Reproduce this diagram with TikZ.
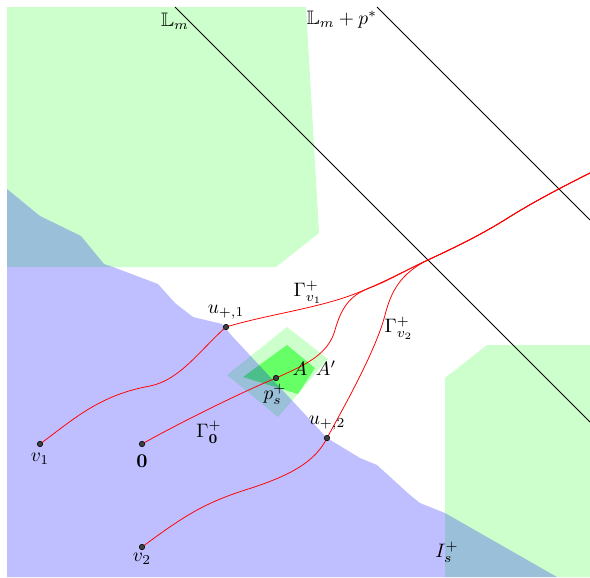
\documentclass[tikz,border=0pt]{standalone}
\usepackage{amssymb}
\begin{document}
\begin{tikzpicture}[x=0.513pt,y=-0.513pt,
  greg/.style={fill=green,fill opacity=0.2},
  breg/.style={fill=blue,fill opacity=0.25},
  innerreg/.style={fill=green,fill opacity=0.5},
  curve/.style={red,line width=0.4pt},
  refline/.style={black,line width=0.4pt},
  dot/.style={circle,fill=black!75,draw=black,line width=0.3pt,inner sep=0pt,minimum size=2.8pt},
  lab/.style={inner sep=1pt}]
\useasboundingbox (0,0) rectangle (590,577);
% regions
\fill[greg] (7,7) -- (306,7) -- (319,233) -- (276,267) -- (7,267) -- cycle;
\fill[greg] (445,378) -- (487,345) -- (590,345) -- (590,577) -- (445,577) -- cycle;
\fill[greg] (287,327) -- (328,359) -- (278,417) -- (227,375) -- cycle;
\fill[innerreg] (287,345) -- (315,368) -- (298,394) -- (243,377) -- cycle;
\fill[breg] (7,189) -- (40,216) -- (81,236) -- (104,264) -- (113,267) -- (158,284)
  -- (175,303) -- (193,317) -- (222,324) -- (232,336) -- (327,438) -- (360,458)
  -- (377,465) -- (410,495) -- (420,503) -- (445,513) -- (557,577) -- (7,577) -- cycle;
% reference lines
\coordinate (L1a) at (175,7);
\coordinate (L1b) at (590,422);
\coordinate (L2a) at (377,7);
\coordinate (L2b) at (590,220);
\draw[refline] (L1a) -- (L1b);
\draw[refline] (L2a) -- (L2b);
% points
\coordinate (v1) at (40,444);
\coordinate (o) at (142,444);
\coordinate (v2) at (142,547);
\coordinate (u1) at (226,327);
\coordinate (u2) at (327,438);
\coordinate (ps) at (276,378);
\coordinate (J) at (430,259);
\coordinate (E) at (590,173);
% curves
\draw[curve] (v1) .. controls (75,418) and (100,395) .. (150,386)
  .. controls (180,380) and (200,350) .. (u1)
  .. controls (265,315) and (320,308) .. (357,293)
  .. controls (385,282) and (410,268) .. (J)
  .. controls (460,245) and (480,235) .. (503,221)
  .. controls (525,207) and (550,193) .. (E);
\draw[curve] (o) .. controls (170,428) and (235,395) .. (ps)
  .. controls (305,365) and (328,355) .. (335,330)
  .. controls (342,305) and (352,294) .. (372,287)
  .. controls (390,280) and (410,268) .. (J)
  .. controls (460,245) and (480,235) .. (503,221)
  .. controls (525,207) and (550,193) .. (E);
\draw[curve] (v2) .. controls (185,515) and (205,503) .. (245,490)
  .. controls (290,476) and (315,462) .. (u2)
  .. controls (345,405) and (376,350) .. (385,315)
  .. controls (391,292) and (400,273) .. (J)
  .. controls (460,245) and (480,235) .. (503,221)
  .. controls (525,207) and (550,193) .. (E);
% dots
\node[dot] (dv1) at (v1) {};
\node[dot] (do) at (o) {};
\node[dot] (dv2) at (v2) {};
\node[dot] (du1) at (u1) {};
\node[dot] (du2) at (u2) {};
\node[dot] (dps) at (ps) {};
% labels
\node[lab] (tL1) at (175,21) {$\mathbb{L}_m$};
\node[lab] (tL2) at (342,20) {$\mathbb{L}_m+p^*$};
\node[lab] (tv1) at (40,459) {$v_1$};
\node[lab] (to) at (142,461) {$\mathbf{0}$};
\node[lab] (tv2) at (142,559) {$v_2$};
\node[lab] (tu1) at (226,312) {$u_{+,1}$};
\node[lab] (tu2) at (327,423) {$u_{+,2}$};
\node[lab] (tps) at (275,394) {$p_s^+$};
\node[lab] (tA) at (300,369) {$A$};
\node[lab] (tA2) at (326,368) {$A'$};
\node[lab] (tg1) at (308,292) {$\Gamma_{v_1}^+$};
\node[lab] (tg2) at (399,328) {$\Gamma_{v_2}^+$};
\node[lab] (tg0) at (209,432) {$\Gamma_{\mathbf{0}}^+$};
\node[lab] (tI) at (447,552) {$I_s^+$};
\end{tikzpicture}
\end{document}
